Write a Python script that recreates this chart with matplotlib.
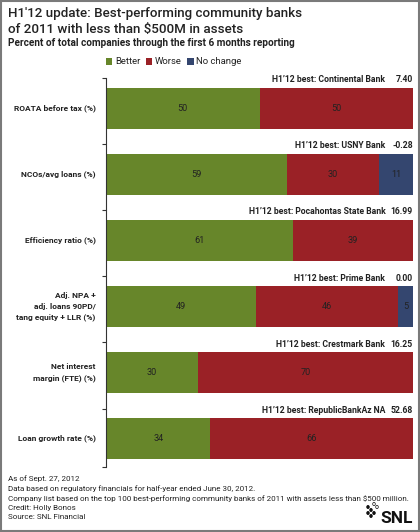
import matplotlib
matplotlib.use("Agg")
import matplotlib.pyplot as plt
import numpy as np

plt.rcParams['font.family'] = ['Roboto', 'DejaVu Sans']

# data
categories = ["ROATA before tax (%)", "NCOs/avg loans (%)", "Efficiency ratio (%)",
              "Adj. NPA +\nadj. loans 90PD/\ntang equity + LLR (%)",
              "Net interest\nmargin (FTE) (%)", "Loan growth rate (%)"]
better = [50, 59, 61, 49, 30, 34]
worse = [50, 30, 39, 46, 70, 66]
no_change = [0, 11, 0, 5, 0, 0]
best_banks = ["Continental Bank", "USNY Bank", "Pocahontas State Bank",
              "Prime Bank", "Crestmark Bank", "RepublicBankAz NA"]
best_values = ["7.40", "-0.28", "16.99", "0.00", "16.25", "52.68"]

footnotes = ["As of Sept. 27, 2012",
             "Data based on regulatory financials for half-year ended June 30, 2012.",
             "Company list based on the top 100 best-performing community banks of 2011 with assets less than $500 million.",
             "Credit: Holly Bonos",
             "Source: SNL Financial"]

GREEN = "#67862a"
RED = "#9a2126"
NAVY = "#34466f"
TXT = "#222222"

fig = plt.figure(figsize=(4.2, 5.32), dpi=100)
fig.patch.set_facecolor("white")
W, H = 420, 532

def fx(px):
    return px / W

def fy(py):
    return 1 - py / H

ax = fig.add_axes([fx(106), fy(467), fx(413) - fx(106), fy(78) - fy(467)])
y = np.arange(len(categories))
h = 0.62
series = [(better, GREEN, "Better"), (worse, RED, "Worse"), (no_change, NAVY, "No change")]
left = np.zeros(len(categories))
for vals, col, name in series:
    vals = np.array(vals, dtype=float)
    ax.barh(y, vals, left=left, height=h, color=col, edgecolor="none", label=name)
    for yi, l, v in zip(y, left, vals):
        if v > 0:
            ax.text(l + v / 2, yi, f"{int(v)}", ha="center", va="center",
                    fontsize=6.6, color=TXT)
    left += vals

for yi, bank, val in zip(y, best_banks, best_values):
    ax.text(91, yi - h / 2 - 0.05, f"H1\u201912 best: {bank}", ha="right", va="bottom",
            fontsize=6.2, fontweight="bold", color=TXT)
    ax.text(100, yi - h / 2 - 0.05, val, ha="right", va="bottom",
            fontsize=6.2, fontweight="bold", color=TXT)

ax.set_xlim(0, 100)
ax.set_ylim(len(categories) - 1 + 0.43, -0.455)
ax.set_xticks([])
ax.set_yticks(list(y - 0.455) + [len(categories) - 1 + 0.43])
ax.set_yticklabels([])
ax.tick_params(axis="y", direction="out", length=3, width=0.8, color="#333333")
for s in ["top", "right", "bottom"]:
    ax.spines[s].set_visible(False)
ax.spines["left"].set_color("#333333")
ax.spines["left"].set_linewidth(0.8)

for yi, cat in zip(y, categories):
    ax.text(-3.3, yi, cat, ha="right", va="center", fontsize=6.0,
            fontweight="bold", color=TXT, linespacing=1.65)

# legend
leg = fig.legend(handles=ax.patches[0:1] + ax.patches[6:7] + ax.patches[12:13],
                 labels=["Better", "Worse", "No change"], loc="center left",
                 bbox_to_anchor=(fx(102), fy(62)), ncol=3, frameon=False,
                 fontsize=6.8, handlelength=0.7, handleheight=0.7,
                 handletextpad=0.25, columnspacing=0.6, borderaxespad=0)
for t in leg.get_texts():
    t.set_color(TXT)

# titles
fig.text(fx(8), fy(14), "H1'12 update: Best-performing community banks",
         fontsize=9.6, fontweight="medium", color=TXT, va="center", ha="left")
fig.text(fx(8), fy(29), "of 2011 with less than $500M in assets",
         fontsize=9.6, fontweight="medium", color=TXT, va="center", ha="left")
fig.text(fx(8), fy(43), "Percent of total companies through the first 6 months reporting",
         fontsize=7.2, fontweight="bold", color=TXT, va="center", ha="left")

for i, line in enumerate(footnotes):
    fig.text(fx(8), fy(479 + i * 9.6), line, fontsize=5.8, color=TXT,
             va="center", ha="left")

# logo
fig.text(fx(413), fy(523), "SNL", fontsize=12.5, fontweight="bold", color="#111111",
         ha="right", va="baseline")
dots_x = [368, 371, 368, 374, 371, 377, 374]
dots_y = [513, 510, 507, 513, 516, 507, 504]
dots_f = [True, True, True, True, True, False, False]
for dx, dy, filled in zip(dots_x, dots_y, dots_f):
    fig.patches.append(plt.Circle((fx(dx), fy(dy)), 1.3 / W,
                                  transform=fig.transFigure,
                                  facecolor="#111111" if filled else "white",
                                  edgecolor="#111111", linewidth=0.5))

# frame
fig.patches.append(plt.Rectangle((0.002, 0.002), 0.996, 0.996, transform=fig.transFigure,
                                 fill=False, edgecolor="#7a7a7a", linewidth=1.5))

fig.savefig("out.png", dpi=100)
